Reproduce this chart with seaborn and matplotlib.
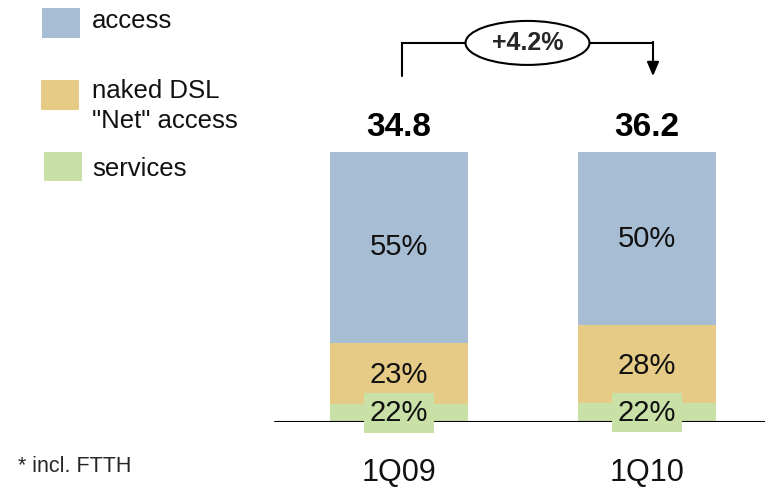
import matplotlib
matplotlib.use("Agg")
import matplotlib.pyplot as plt
from matplotlib.patches import Ellipse, Rectangle
import numpy as np
import pandas as pd
import seaborn as sns

# dados
quarters = ["1Q09", "1Q10"]
totals = [34.8, 36.2]
growth_label = "+4.2%"
segment_names = ["access", "naked DSL\n\"Net\" access", "services"]
# altura desenhada de cada segmento (em % da barra)
access_height = [70.7, 64.1]
naked_height = [22.6, 28.9]
services_height = [6.7, 7.0]
# rótulos de percentagem
access_pct = [55, 50]
naked_pct = [23, 28]
services_pct = [22, 22]
footnote = "* incl. FTTH"

cor_access = "#A7BDD3"
cor_naked = "#E5CB85"
cor_services = "#C9E0A6"

sns.set_theme(style="white")
plt.rcParams["font.family"] = ["Liberation Sans", "DejaVu Sans"]

W, H = 765, 488
fig = plt.figure(figsize=(W / 100, H / 100), dpi=100)
base_px = 66  # linha de base, pixels a partir de baixo
px_per_unit = 2.7
ax = fig.add_axes([0, base_px / H, 1, 1 - base_px / H])

df = pd.DataFrame({
    "quarter": quarters,
    "services": services_height,
    "naked": naked_height,
    "access": access_height,
})
df["top_naked"] = df["services"] + df["naked"]
df["top_access"] = df["top_naked"] + df["access"]

largura = 138 / 248
sns.barplot(data=df, x="quarter", y="top_access", color=cor_access, width=largura,
            saturation=1, ax=ax, linewidth=0)
sns.barplot(data=df, x="quarter", y="top_naked", color=cor_naked, width=largura,
            saturation=1, ax=ax, linewidth=0)
sns.barplot(data=df, x="quarter", y="services", color=cor_services, width=largura,
            saturation=1, ax=ax, linewidth=0)

ax.set_xlim(-399 / 248, (W - 399) / 248)
ax.set_ylim(0, (H - base_px) / px_per_unit)
ax.axhline(0, xmin=275 / W, xmax=1, color="black", lw=1.5, zorder=5)

for s in ax.spines.values():
    s.set_visible(False)
ax.set_yticks([])
ax.set_xlabel("")
ax.set_ylabel("")
ax.tick_params(axis="x", length=0, pad=26, labelsize=22, labelcolor="#111111")

fs_pct = 21
for i in range(len(quarters)):
    s = df["services"][i]
    n = df["top_naked"][i]
    t = df["top_access"][i]
    ax.text(i, (n + t) / 2, f"{access_pct[i]}%", ha="center", va="center",
            fontsize=fs_pct, color="#111111")
    ax.text(i, (s + n) / 2 - 0.6, f"{naked_pct[i]}%", ha="center", va="center",
            fontsize=fs_pct, color="#111111")
    ax.text(i, s / 2, f"{services_pct[i]}%", ha="center", va="center",
            fontsize=fs_pct, color="#111111", zorder=6,
            bbox=dict(boxstyle="square,pad=0.2", fc=cor_services, ec="none"))
    ax.text(i, t + 9, f"{totals[i]}", ha="center", va="center",
            fontsize=24, fontweight="bold", color="black")

# seta de crescimento
y_baixo = max(df["top_access"]) + 28.1
y_alto = max(df["top_access"]) + 40.4
x0 = 0 + 3 / 248
x1 = 1 + 6 / 248
ax.plot([x0, x0, x1], [y_baixo, y_alto, y_alto], color="black", lw=1.5,
        clip_on=False, solid_joinstyle="miter")
ax.annotate("", xy=(x1, y_baixo), xytext=(x1, y_alto + 0.4),
            arrowprops=dict(arrowstyle="-|>,head_width=0.3,head_length=0.7",
                            color="black", lw=1.5, shrinkA=0, shrinkB=0))
xm = (x0 + x1) / 2
ax.add_patch(Ellipse((xm, y_alto), 124 / 248, 44 / px_per_unit, fc="white",
                     ec="black", lw=1.5, zorder=6, clip_on=False))
ax.text(xm, y_alto, growth_label, ha="center", va="center", fontsize=18,
        fontweight="bold", zorder=7)

# legenda
cores = [cor_access, cor_naked, cor_services]
legenda_y = [23, 95, 167]
legenda_x = [42, 41, 44]
texto_y = [9, 79, 157]
for nome, cor, yc, xc, yt in zip(segment_names, cores, legenda_y, legenda_x, texto_y):
    fig.patches.append(Rectangle((xc / W, 1 - (yc + 14.5) / H), 38 / W, 29 / H,
                                 transform=fig.transFigure, fc=cor, ec="none"))
    fig.text(92 / W, 1 - yt / H, nome, ha="left", va="top",
             fontsize=18.5, linespacing=1.3, color="#111111")

fig.text(18 / W, 1 - 467 / H, footnote, ha="left", va="center", fontsize=15.5)

fig.savefig("out.png", dpi=100)
